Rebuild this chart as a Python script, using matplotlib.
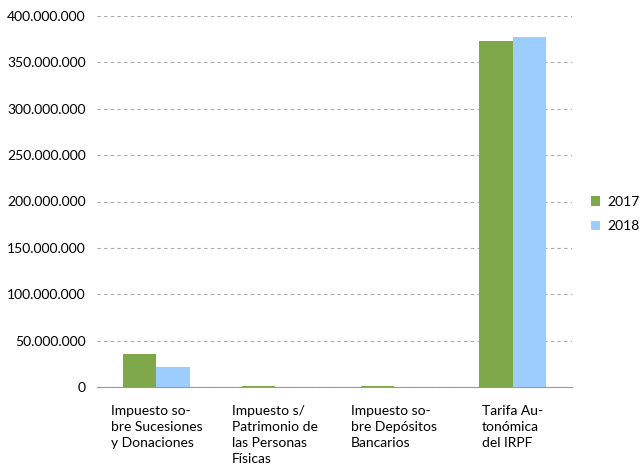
import numpy as np
import matplotlib
matplotlib.use("Agg")
from matplotlib import pyplot as plt
from matplotlib.ticker import FuncFormatter

categorias = ["Impuesto so-\nbre Sucesiones\ny Donaciones",
              "Impuesto s/\nPatrimonio de\nlas Personas\nFísicas",
              "Impuesto so-\nbre Depósitos\nBancarios",
              "Tarifa Au-\ntonómica\ndel IRPF"]
valores_2017 = [35600000, 1500000, 1500000, 373000000]
valores_2018 = [21800000, 300000, 300000, 377500000]

plt.rcParams['font.family'] = ['Lato', 'DejaVu Sans']

fig = plt.figure(figsize=(6.4, 4.72), dpi=100)
ax = fig.add_axes([97/640, 1-387/472, 475/640, 371/472])

x = np.arange(len(categorias))
w = 0.28
ax.bar(x - w/2, valores_2017, w, color="#7EA84A", label="2017", zorder=3)
ax.bar(x + w/2, valores_2018, w, color="#9DCDFE", label="2018", zorder=3)

ax.set_xlim(-0.5, 3.5)
ax.set_ylim(0, 400000000)
ax.set_yticks(np.arange(0, 400000001, 50000000))
ax.yaxis.set_major_formatter(FuncFormatter(lambda v, p: "{:,.0f}".format(v).replace(",", ".")))
ax.grid(axis="y", color="#aaaaaa", linestyle=(0, (3, 3)), linewidth=0.8, zorder=0)

ax.set_xticks(x)
ax.set_xticklabels(categorias, multialignment="left", fontsize=10, linespacing=1.4)
ax.tick_params(axis="x", length=0, pad=13)
ax.tick_params(axis="y", length=0, pad=8, labelsize=10)

for s in ["top", "right", "left"]:
    ax.spines[s].set_visible(False)
ax.spines["bottom"].set_color("#999999")
ax.spines["bottom"].set_linewidth(0.8)

fig.legend(handles=ax.patches[:1] + ax.patches[4:5], labels=["2017", "2018"],
           loc="center left", bbox_to_anchor=(578/640, 1-214/472), frameon=False,
           fontsize=10, handlelength=0.7, handleheight=0.7, handletextpad=0.5,
           labelspacing=0.9)

plt.savefig("out.png")
